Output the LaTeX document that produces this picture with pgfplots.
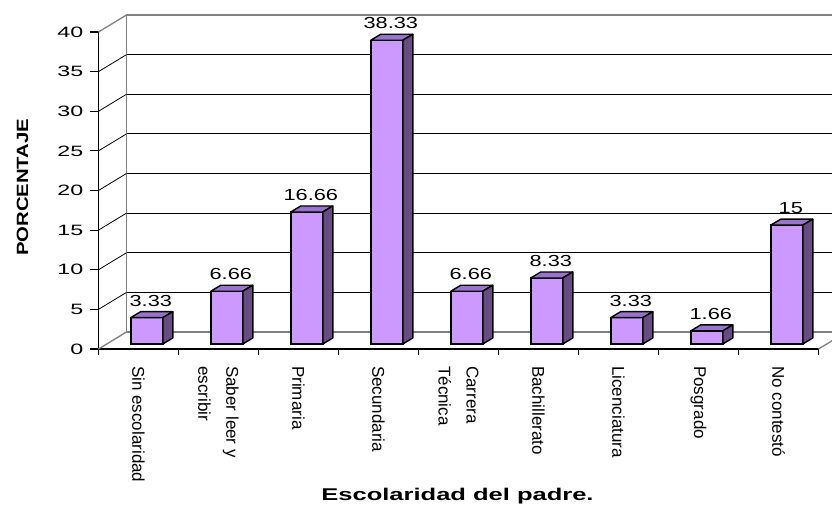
\documentclass[border=0pt]{standalone}
\usepackage{pgfplots}
\pgfplotsset{compat=1.18}
\usepackage{pgfplotstable}
\usepackage{graphicx}
\usepackage{fontspec}
\setmainfont{Liberation Sans}
\definecolor{barfront}{HTML}{CC99FF}
\definecolor{bartop}{HTML}{9A74CC}
\definecolor{barside}{HTML}{664C80}
\definecolor{wallgray}{HTML}{808080}
\pgfplotstableread{
x v lab
0 3.33 3.33
1 6.66 6.66
2 16.66 16.66
3 38.33 38.33
4 6.66 6.66
5 8.33 8.33
6 3.33 3.33
7 1.66 1.66
8 15 15
}\datatable
\begin{document}
\begin{tikzpicture}
\useasboundingbox (0pt,0pt) rectangle (832pt,506pt);
\clip (0pt,0pt) rectangle (832pt,506pt);
% back wall
\begin{axis}[at={(126.5pt,174pt)}, anchor=south west, scale only axis,
  width=720pt, height=317pt, xmin=-0.5, xmax=8.5, ymin=0, ymax=40,
  xtick=\empty, ytick={5,10,...,35}, yticklabels={}, major tick length=0pt,
  ymajorgrids, grid style={black, line width=0.8pt},
  axis line style={draw=wallgray, line width=1.3pt}]
\end{axis}
% front axis
\begin{axis}[at={(98.5pt,157pt)}, anchor=south west, scale only axis,
  width=720pt, height=317pt, xmin=-0.5, xmax=8.5, ymin=0, ymax=40,
  axis x line*=bottom, axis y line*=left, clip=false,
  axis line style={black, line width=1.1pt, -},
  tick align=outside, major tick length=9pt, minor tick length=6pt,
  ytick={0,5,...,40},
  yticklabel={\scalebox{1.55}[1]{\pgfmathprintnumber[assume math mode=true]{\tick}}},
  yticklabel style={font=\fontsize{15}{18}\selectfont, inner sep=0pt, xshift=-6pt},
  ytick style={black, line width=1.1pt},
  xtick={0,...,8},
  xticklabels={Sin escolaridad,{Saber leer y\\escribir},Primaria,Secundaria,{Carrera\\Técnica},Bachillerato,Licenciatura,Posgrado,No contestó},
  major x tick style={draw=none},
  minor xtick={-0.5,0.5,...,8.5},
  minor x tick style={black, line width=1.1pt},
  xticklabel shift=8pt,
  xticklabel style={rotate=-90, anchor=west, align=left, inner sep=0pt,
    font=\fontsize{17}{28}\selectfont}]
\pgfplotsinvokeforeach{5,10,...,35}{\draw[black, line width=0.8pt] (axis cs:-0.5,#1) -- ++(28pt,17pt);}
\draw[wallgray, line width=1.3pt] (axis cs:-0.5,0) -- ++(28pt,17pt);
\draw[wallgray, line width=1.3pt] (axis cs:-0.5,40) -- ++(28pt,17pt);
\draw[wallgray, line width=1.3pt] (axis cs:8.5,0) -- ++(28pt,17pt);
\end{axis}
% bars
\begin{axis}[at={(106.8pt,162pt)}, anchor=south west, scale only axis,
  width=720pt, height=317pt, xmin=-0.5, xmax=8.5, ymin=0, ymax=40,
  hide axis, clip=false]
\addplot[ybar, bar width=32pt, bar shift=0pt, fill=barfront, draw=black, line width=1.4pt,
  point meta=explicit symbolic,
  nodes near coords={\scalebox{1.36}[1]{\pgfplotspointmeta}},
  nodes near coords style={anchor=base, yshift=11.5pt, xshift=4pt, inner sep=0pt,
    font=\fontsize{16}{18}\selectfont, black}]
  table[x=x, y=v, meta=lab] {\datatable};
\addplot[scatter, only marks, mark=*, mark size=0.01pt,
  mark options={draw=none, fill=none},
  point meta=y,
  visualization depends on={\thisrow{v} \as \val},
  scatter/@pre marker code/.code={%
    \filldraw[fill=bartop, draw=black, line width=1.4pt, line join=round]
      (-16pt,0pt) -- (16pt,0pt) -- (26pt,6pt) -- (-6pt,6pt) -- cycle;
    \filldraw[fill=barside, draw=black, line width=1.4pt, line join=round]
      (16pt,0pt) -- (26pt,6pt) -- (26pt,{6pt-\val*7.925pt}) -- (16pt,{-\val*7.925pt}) -- cycle;
    \begin{scope}},
  scatter/@post marker code/.code={\end{scope}}]
  table[x=x, y=v] {\datatable};
\end{axis}
\node[rotate=90] at (22.5pt,318.7pt) {\scalebox{1.245}[1]{\bfseries\fontsize{16.3}{18}\selectfont PORCENTAJE}};
\node[anchor=base, inner sep=0pt] at (457.5pt,6pt) {\scalebox{1.5}[1]{\bfseries\fontsize{17}{20}\selectfont Escolaridad del padre.}};
\end{tikzpicture}
\end{document}
